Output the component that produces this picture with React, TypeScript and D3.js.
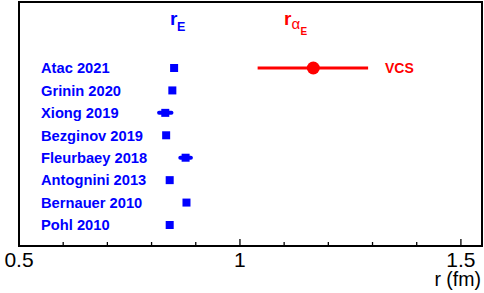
import React from "react";
import * as d3 from "d3";

const names = ["Atac 2021", "Grinin 2020", "Xiong 2019", "Bezginov 2019", "Fleurbaey 2018", "Antognini 2013", "Bernauer 2010", "Pohl 2010"];
const rE = [0.851, 0.847, 0.831, 0.833, 0.877, 0.841, 0.879, 0.841];
const rEerr = [0, 0, 0.014, 0, 0.012, 0, 0, 0];
const vcsLabel = "VCS";
const vcsValue = 1.166;
const vcsLow = 1.04;
const vcsHigh = 1.29;
const majorTicks = [0.5, 1, 1.5];
const minorTicks = [0.6, 0.7, 0.8, 0.9, 1.1, 1.2, 1.3, 1.4];
const xLabel = "r (fm)";

const W = 484, H = 293;
const left = 19, right = 482, top = 2, bottom = 246;

export default function App() {
  const x = d3.scaleLinear().domain([0.5, 1.55]).range([left, 483]);
  const y = d3.scalePoint<string>().domain(names).range([68, 225]);
  const blue = "#0000ff";
  const red = "#ff0000";
  const font = "'Liberation Sans', Arial, Helvetica, sans-serif";
  return (
    <svg width={W} height={H} style={{ position: "absolute", left: 0, top: 0, background: "#fff" }} fontFamily={font}>
      <rect x={left} y={top} width={right - left} height={bottom - top} fill="none" stroke="#000" strokeWidth={2} />
      {majorTicks.map((t) => (
        <g key={"M" + t}>
          <line x1={x(t)} x2={x(t)} y1={bottom} y2={bottom - 7} stroke="#000" strokeWidth={1.3} />
          <text x={x(t)} y={267} fontSize={21} textAnchor="middle" fill="#000">{String(t)}</text>
        </g>
      ))}
      {minorTicks.map((t) => (
        <line key={"m" + t} x1={x(t)} x2={x(t)} y1={bottom} y2={bottom - 4} stroke="#000" strokeWidth={1.3} />
      ))}
      <text x={481} y={286} fontSize={19.5} textAnchor="end" fill="#000">{xLabel}</text>

      <text x={170} y={25} fontSize={19} fontWeight="bold" fill={blue}>r</text>
      <text x={177} y={31} fontSize={12.5} fontWeight="bold" fill={blue}>E</text>

      <text x={284} y={25} fontSize={19} fontWeight="bold" fill={red}>r</text>
      <text x={291.5} y={28.5} fontSize={15} fill={red}>α</text>
      <text x={300.5} y={35} fontSize={10} fontWeight="bold" fill={red}>E</text>

      {names.map((n, i) => {
        const yy = y(n) as number;
        return (
          <g key={n}>
            <text x={41} y={yy} dy="0.36em" fontSize={14.7} fontWeight="bold" fill={blue}>{n}</text>
            {rEerr[i] > 0 && (
              <line x1={x(rE[i] - rEerr[i])} x2={x(rE[i] + rEerr[i])} y1={yy} y2={yy} stroke={blue} strokeWidth={4} strokeLinecap="round" />
            )}
            <rect x={x(rE[i]) - 4} y={yy - 4} width={8} height={8} fill={blue} />
          </g>
        );
      })}

      <line x1={x(vcsLow)} x2={x(vcsHigh)} y1={y(names[0])} y2={y(names[0])} stroke={red} strokeWidth={3} />
      <circle cx={x(vcsValue)} cy={y(names[0])} r={6.5} fill={red} />
      <text x={385} y={y(names[0])} dy="0.36em" fontSize={14} fontWeight="bold" fill={red}>{vcsLabel}</text>
    </svg>
  );
}
